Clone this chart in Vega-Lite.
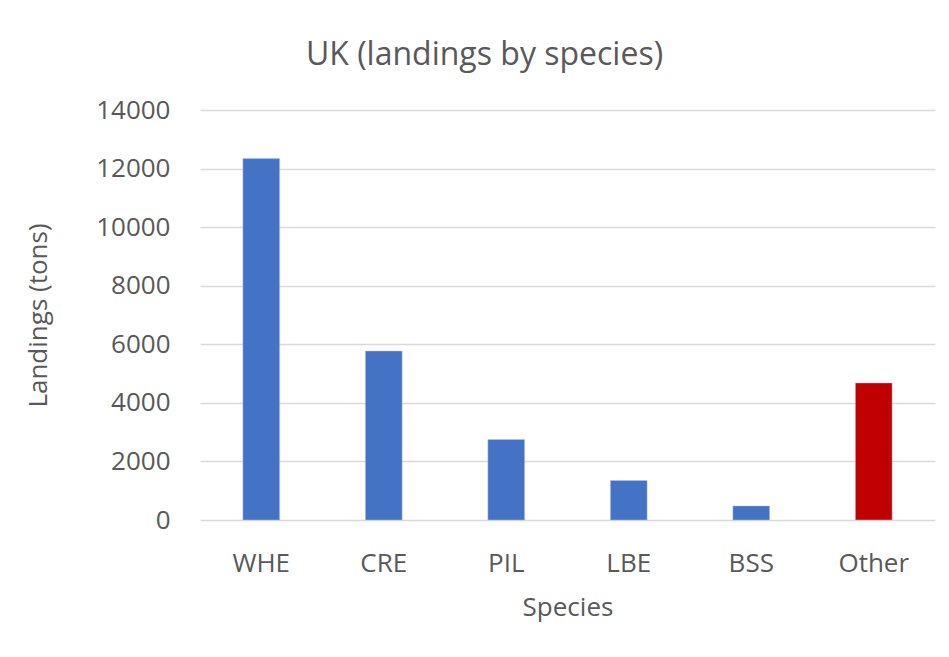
{
  "$schema": "https://vega.github.io/schema/vega-lite/v6.json",
  "width": 735,
  "height": 410,
  "autosize": {"type": "none"},
  "padding": {"left": 200, "top": 110, "right": 14, "bottom": 137},
  "background": "white",
  "title": {
    "text": "UK (landings by species)",
    "font": "Open Sans",
    "fontSize": 32,
    "fontWeight": "normal",
    "color": "#595959",
    "anchor": "middle",
    "frame": "group",
    "dx": -83,
    "offset": 25
  },
  "data": {
    "values": [
      {"species": "WHE", "landings": 12340, "group": "main"},
      {"species": "CRE", "landings": 5770, "group": "main"},
      {"species": "PIL", "landings": 2750, "group": "main"},
      {"species": "LBE", "landings": 1350, "group": "main"},
      {"species": "BSS", "landings": 480, "group": "main"},
      {"species": "Other", "landings": 4680, "group": "other"}
    ]
  },
  "mark": {"type": "bar", "stroke": "#b4c7e7", "strokeWidth": 0.5},
  "encoding": {
    "x": {
      "field": "species",
      "type": "nominal",
      "sort": null,
      "title": "Species",
      "scale": {"paddingInner": 0.7, "paddingOuter": 0.35},
      "axis": {
        "labelAngle": 0,
        "labelFont": "Open Sans",
        "labelFontSize": 26,
        "labelColor": "#595959",
        "labelPadding": 30,
        "titleFont": "Open Sans",
        "titleFontSize": 26,
        "titleFontWeight": "normal",
        "titleColor": "#595959",
        "titlePadding": 18,
        "domain": false,
        "ticks": false
      }
    },
    "y": {
      "field": "landings",
      "type": "quantitative",
      "title": "Landings (tons)",
      "scale": {"domain": [0, 14000]},
      "axis": {
        "values": [0, 2000, 4000, 6000, 8000, 10000, 12000, 14000],
        "format": "d",
        "labelFont": "Open Sans",
        "labelFontSize": 26,
        "labelColor": "#595959",
        "labelPadding": 30,
        "titleFont": "Open Sans",
        "titleFontSize": 26,
        "titleFontWeight": "normal",
        "titleColor": "#595959",
        "titlePadding": 44,
        "domain": false,
        "ticks": false,
        "gridColor": "#d9d9d9",
        "gridWidth": 1.5
      }
    },
    "color": {
      "field": "group",
      "type": "nominal",
      "scale": {"domain": ["main", "other"], "range": ["#4472C4", "#C00000"]},
      "legend": null
    }
  },
  "config": {"view": {"stroke": null}}
}
